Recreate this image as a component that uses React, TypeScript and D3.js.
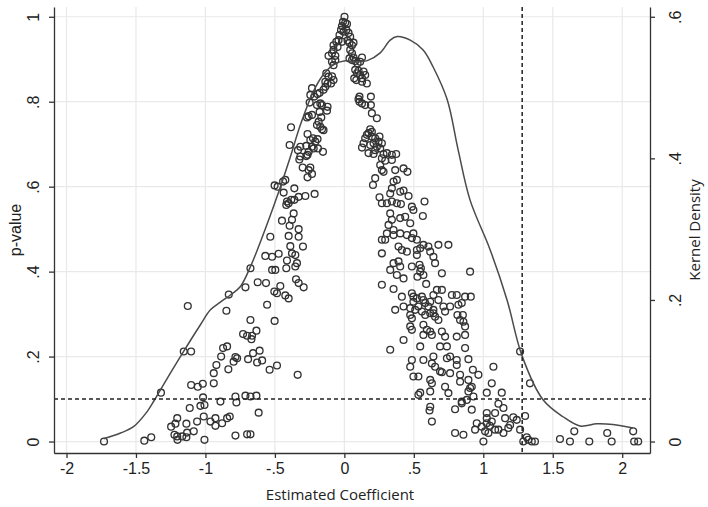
import React, { useEffect, useRef } from 'react';
import * as d3 from 'd3';

// axis ticks
const X_TICKS = [-2, -1.5, -1, -0.5, 0, 0.5, 1, 1.5, 2];
const P_TICKS = [0, 0.2, 0.4, 0.6, 0.8, 1];
const DENSITY_TICKS = [0, 0.2, 0.4, 0.6];

// reference lines
const P_CUTOFF = 0.1;
const COEF_CUTOFF = 1.28;

// [estimated coefficient, p-value]
const scatterPoints: [number, number][] = [
  // left tail
  [-1.73, 0], [-1.44, 0.002], [-1.39, 0.010], [-1.32, 0.115], [-1.247, 0.035], [-1.216, 0.042], [-1.203, 0.055],
  [-1.223, 0.016], [-1.201, 0.004], [-1.167, 0.012], [-1.132, 0.021], [-1.084, 0.024], [-1.137, 0.010], [-1.203, 0.012],
  [-1.137, 0.042], [-1.060, 0.047], [-1.012, 0.059], [-1.156, 0.212], [-1.103, 0.212], [-1.127, 0.319], [-1.113, 0.079],
  [-1.103, 0.133], [-1.055, 0.129], [-1.019, 0.136], [-1.036, 0.084], [-1.007, 0.086], [-1.017, 0.104], [-1.007, 0.004],
  [-0.964, 0.047], [-0.928, 0.037], [-0.928, 0.055], [-0.880, 0.043], [-0.844, 0.055], [-0.825, 0.059], [-0.940, 0.137],
  [-0.892, 0.094], [-0.940, 0.161], [-0.921, 0.180], [-0.887, 0.200], [-0.873, 0.220], [-0.844, 0.224], [-0.835, 0.170],
  [-0.849, 0.308], [-0.832, 0.346],
  // left branch, lower part
  [-0.676, 0.408], [-0.712, 0.363], [-0.624, 0.375], [-0.564, 0.373], [-0.569, 0.437], [-0.520, 0.435], [-0.473, 0.442],
  [-0.413, 0.426], [-0.377, 0.443], [-0.341, 0.420], [-0.353, 0.412], [-0.520, 0.404], [-0.497, 0.404], [-0.418, 0.408],
  [-0.461, 0.366], [-0.348, 0.382], [-0.329, 0.373], [-0.293, 0.363], [-0.504, 0.353], [-0.485, 0.349], [-0.425, 0.344],
  [-0.401, 0.337], [-0.556, 0.322], [-0.502, 0.284], [-0.676, 0.286], [-0.729, 0.253], [-0.700, 0.249], [-0.664, 0.249],
  [-0.633, 0.261], [-0.669, 0.241], [-0.784, 0.199], [-0.772, 0.196], [-0.797, 0.188], [-0.693, 0.194], [-0.657, 0.208],
  [-0.610, 0.214], [-0.628, 0.186], [-0.592, 0.191], [-0.538, 0.169], [-0.485, 0.179], [-0.336, 0.157], [-0.784, 0.106],
  [-0.777, 0.092], [-0.712, 0.108], [-0.676, 0.106], [-0.633, 0.108], [-0.617, 0.068], [-0.784, 0.014], [-0.700, 0.017],
  [-0.676, 0.017], [-0.389, 0.460], [-0.353, 0.439], [-0.298, 0.459],
  // left branch, upper part
  [-0.533, 0.482], [-0.401, 0.484], [-0.329, 0.482], [-0.394, 0.508], [-0.449, 0.520], [-0.377, 0.522], [-0.329, 0.500],
  [-0.365, 0.537], [-0.418, 0.557], [-0.401, 0.561], [-0.382, 0.569], [-0.360, 0.569], [-0.413, 0.565], [-0.329, 0.576],
  [-0.281, 0.578], [-0.214, 0.583], [-0.437, 0.586], [-0.360, 0.596], [-0.502, 0.603], [-0.480, 0.600], [-0.441, 0.612],
  [-0.425, 0.616], [-0.300, 0.645], [-0.257, 0.639], [-0.245, 0.645], [-0.233, 0.630], [-0.265, 0.622], [-0.324, 0.664],
  [-0.317, 0.671], [-0.274, 0.672], [-0.265, 0.675], [-0.334, 0.686], [-0.317, 0.694], [-0.274, 0.696], [-0.233, 0.694],
  [-0.221, 0.690], [-0.190, 0.690], [-0.154, 0.682], [-0.257, 0.682], [-0.209, 0.706], [-0.193, 0.712], [-0.394, 0.698],
  [-0.265, 0.724], [-0.245, 0.710], [-0.226, 0.714], [-0.384, 0.740], [-0.197, 0.745], [-0.173, 0.741], [-0.161, 0.735],
  [-0.150, 0.733], [-0.185, 0.753], [-0.166, 0.763], [-0.257, 0.766], [-0.233, 0.769], [-0.269, 0.763], [-0.197, 0.792],
  [-0.173, 0.796], [-0.161, 0.792], [-0.125, 0.779], [-0.121, 0.788], [-0.178, 0.776], [-0.250, 0.798], [-0.216, 0.812],
  [-0.245, 0.816], [-0.233, 0.832], [-0.193, 0.818], [-0.178, 0.821], [-0.150, 0.828], [-0.137, 0.835], [-0.121, 0.843],
  [-0.137, 0.847], [-0.114, 0.859], [-0.130, 0.867], [-0.114, 0.908],
  // peak
  [0.001, 1.000], [-0.010, 0.988], [0.006, 0.986], [0.019, 0.983], [-0.017, 0.978], [-0.024, 0.969], [-0.006, 0.965],
  [0.014, 0.969], [0.030, 0.962], [0.042, 0.953], [-0.035, 0.957], [-0.042, 0.945], [-0.017, 0.941], [0.023, 0.944],
  [0.037, 0.939], [0.055, 0.933], [0.066, 0.939], [-0.058, 0.941], [-0.078, 0.933], [-0.049, 0.929], [-0.078, 0.922],
  [-0.089, 0.914], [-0.065, 0.908], [0.042, 0.922], [0.055, 0.914], [0.066, 0.904], [0.037, 0.902], [0.055, 0.898],
  [0.127, 0.904], [0.114, 0.894], [0.095, 0.890], [0.078, 0.896], [-0.089, 0.894], [-0.078, 0.886], [-0.065, 0.898],
  [-0.089, 0.860], [-0.078, 0.851], [-0.096, 0.843], [0.078, 0.875], [0.102, 0.873], [0.091, 0.867], [0.114, 0.863],
  [0.127, 0.855], [0.071, 0.855], [0.086, 0.851], [0.138, 0.871], [0.150, 0.863], [0.127, 0.847], [0.162, 0.843],
  [0.109, 0.812], [0.102, 0.806], [0.191, 0.812],
  // right branch, upper part
  [0.127, 0.796], [0.150, 0.792], [0.191, 0.792], [0.109, 0.800], [0.198, 0.773], [0.234, 0.761], [0.186, 0.735],
  [0.198, 0.729], [0.174, 0.726], [0.162, 0.722], [0.150, 0.714], [0.198, 0.718], [0.222, 0.714], [0.253, 0.718],
  [0.246, 0.706], [0.270, 0.702], [0.210, 0.702], [0.234, 0.694], [0.222, 0.686], [0.258, 0.690], [0.186, 0.698],
  [0.138, 0.702], [0.127, 0.692], [0.174, 0.679], [0.210, 0.677], [0.282, 0.677], [0.306, 0.679], [0.342, 0.675],
  [0.373, 0.677], [0.270, 0.667], [0.294, 0.661], [0.342, 0.663], [0.258, 0.651], [0.270, 0.639], [0.282, 0.635],
  [0.366, 0.639], [0.426, 0.643], [0.454, 0.635], [0.222, 0.620], [0.206, 0.604], [0.354, 0.612], [0.378, 0.616],
  [0.342, 0.596], [0.330, 0.584], [0.402, 0.588], [0.426, 0.591], [0.462, 0.578], [0.253, 0.575],
  // right branch, middle
  [0.270, 0.561], [0.306, 0.561], [0.342, 0.565], [0.378, 0.561], [0.407, 0.559], [0.486, 0.553], [0.497, 0.545],
  [0.577, 0.565], [0.565, 0.531], [0.330, 0.537], [0.342, 0.522], [0.318, 0.510], [0.354, 0.498], [0.402, 0.526],
  [0.438, 0.529], [0.474, 0.514], [0.306, 0.490], [0.270, 0.475], [0.294, 0.475], [0.354, 0.486], [0.402, 0.490],
  [0.450, 0.486], [0.497, 0.490], [0.486, 0.479], [0.522, 0.475], [0.569, 0.463], [0.605, 0.459], [0.618, 0.447],
  [0.641, 0.435], [0.677, 0.463], [0.749, 0.463], [0.522, 0.451], [0.546, 0.455], [0.270, 0.443], [0.390, 0.459],
  [0.414, 0.451], [0.450, 0.447], [0.522, 0.439], [0.354, 0.420], [0.390, 0.424], [0.402, 0.412], [0.486, 0.412],
  [0.541, 0.416], [0.551, 0.408], [0.546, 0.400], [0.569, 0.392], [0.653, 0.420], [0.702, 0.396], [0.905, 0.400],
  [0.330, 0.404], [0.378, 0.392], [0.426, 0.384], [0.526, 0.388], [0.589, 0.371], [0.270, 0.369], [0.354, 0.359],
  [0.414, 0.341], [0.486, 0.349], [0.497, 0.341], [0.522, 0.337], [0.558, 0.341], [0.569, 0.333], [0.497, 0.329],
  [0.582, 0.326], [0.618, 0.329], [0.666, 0.357], [0.702, 0.357], [0.641, 0.345], [0.677, 0.333], [0.774, 0.345],
  [0.809, 0.345], [0.869, 0.341], [0.910, 0.341], [0.366, 0.310], [0.426, 0.318], [0.474, 0.314], [0.510, 0.310],
  [0.533, 0.318], [0.605, 0.318], [0.641, 0.310], [0.713, 0.318], [0.761, 0.318], [0.821, 0.322], [0.845, 0.326],
  [0.474, 0.298], [0.486, 0.290], [0.558, 0.306], [0.582, 0.298], [0.618, 0.302], [0.641, 0.302], [0.653, 0.294],
  [0.725, 0.306], [0.814, 0.298], [0.853, 0.298], [0.474, 0.271], [0.486, 0.263], [0.569, 0.275], [0.594, 0.263],
  [0.618, 0.259], [0.569, 0.251], [0.630, 0.251], [0.702, 0.259], [0.725, 0.247], [0.809, 0.247], [0.869, 0.251],
  [0.869, 0.271], [0.857, 0.282], [0.833, 0.286], [0.677, 0.286], [0.426, 0.239], [0.546, 0.224], [0.689, 0.224],
  [0.738, 0.224], [0.869, 0.220], [0.330, 0.216],
  // right branch, lower part
  [0.486, 0.192], [0.474, 0.176], [0.497, 0.153], [0.533, 0.153], [0.569, 0.192], [0.630, 0.184], [0.641, 0.200],
  [0.653, 0.176], [0.689, 0.165], [0.702, 0.163], [0.738, 0.196], [0.761, 0.200], [0.809, 0.192], [0.809, 0.180],
  [0.893, 0.194], [0.761, 0.161], [0.833, 0.157], [0.893, 0.145], [0.925, 0.169], [0.965, 0.157], [1.073, 0.176],
  [1.265, 0.212], [1.336, 0.137], [0.618, 0.145], [0.630, 0.137], [0.618, 0.118], [0.725, 0.129], [0.749, 0.114],
  [0.833, 0.141], [0.893, 0.118], [0.905, 0.126], [0.917, 0.129], [1.025, 0.115], [1.061, 0.137], [1.133, 0.115],
  [0.546, 0.115], [0.533, 0.110], [0.845, 0.094], [0.881, 0.098], [0.929, 0.106], [0.618, 0.082], [0.613, 0.073],
  [0.630, 0.047], [0.797, 0.076], [0.917, 0.075], [0.845, 0.090], [1.025, 0.067], [1.085, 0.067], [1.025, 0.055],
  [1.109, 0.089], [1.145, 0.079], [1.061, 0.047], [0.953, 0.043], [0.989, 0.035], [0.941, 0.028], [1.085, 0.028],
  [1.157, 0.055], [1.216, 0.057], [1.241, 0.051], [1.301, 0.060], [1.180, 0.032], [1.145, 0.020], [0.797, 0.020],
  [0.857, 0.016], [1.001, 0], [1.288, 0], [1.313, 0.010], [1.324, 0.004], [1.349, 0], [1.372, 0],
  [1.048, 0.037], [1.013, 0.024], [1.037, 0.020], [1.109, 0.028], [1.193, 0.039], [1.265, 0.028], [1.025, 0.043],
  // right tail
  [1.552, 0.006], [1.624, 0], [1.655, 0.024], [1.763, 0], [1.892, 0.020], [1.924, 0], [2.079, 0.024], [2.086, 0], [2.115, 0],
];

// kernel density of the estimates: [coefficient, density]
const densityCurve: [number, number][] = [
  [-1.733, 0.004], [-1.611, 0.012], [-1.518, 0.021], [-1.417, 0.043], [-1.366, 0.059], [-1.294, 0.083], [-1.158, 0.127],
  [-1.036, 0.165], [-0.964, 0.186], [-0.892, 0.197], [-0.820, 0.207], [-0.748, 0.219], [-0.676, 0.247], [-0.626, 0.271],
  [-0.532, 0.320], [-0.460, 0.360], [-0.389, 0.402], [-0.317, 0.447], [-0.224, 0.494], [-0.152, 0.518], [-0.080, 0.532],
  [0.006, 0.538], [0.078, 0.536], [0.165, 0.538], [0.258, 0.549], [0.330, 0.567], [0.380, 0.572], [0.474, 0.567],
  [0.567, 0.553], [0.639, 0.529], [0.740, 0.483], [0.819, 0.412], [0.905, 0.341], [1.049, 0.271], [1.171, 0.200],
  [1.279, 0.121], [1.430, 0.059], [1.574, 0.035], [1.696, 0.022], [1.818, 0.025], [1.933, 0.024], [2.077, 0.019],
];

const WIDTH = 708;
const HEIGHT = 507;
const plot = { left: 54, right: 650, top: 7, bottom: 453 };

// Stata style numbers: .5 instead of 0.5
const stataFmt = (d: number) => String(+d.toFixed(2)).replace(/^(-?)0\./, '$1.');

const App = () => {
  const svgRef = useRef<SVGSVGElement>(null);

  useEffect(() => {
    document.body.style.margin = '0';
    const svg = d3.select(svgRef.current);
    svg.selectAll('*').remove();

    const x = d3.scaleLinear().domain([-2.09, 2.2]).range([plot.left, plot.right]);
    const y = d3.scaleLinear().domain([-0.027, 1.023]).range([plot.bottom, plot.top]);
    const yDens = d3.scaleLinear().domain([-0.027 * 0.6, 1.023 * 0.6]).range([plot.bottom, plot.top]);

    svg.append('rect').attr('width', WIDTH).attr('height', HEIGHT).attr('fill', '#ffffff');

    // grid
    const grid = svg.append('g').attr('stroke', '#e9e9e9').attr('stroke-width', 1.2);
    grid.selectAll('.hgrid').data(P_TICKS).enter().append('line')
      .attr('x1', plot.left).attr('x2', plot.right)
      .attr('y1', d => y(d)).attr('y2', d => y(d));
    grid.selectAll('.vgrid').data(X_TICKS).enter().append('line')
      .attr('x1', d => x(d)).attr('x2', d => x(d))
      .attr('y1', plot.top).attr('y2', plot.bottom);

    // scatter
    svg.append('g').selectAll('circle').data(scatterPoints).enter().append('circle')
      .attr('cx', d => x(d[0]))
      .attr('cy', d => y(d[1]))
      .attr('r', 3.4)
      .attr('fill', 'none')
      .attr('stroke', '#333333')
      .attr('stroke-width', 1.35);

    // kernel density
    const line = d3.line<[number, number]>()
      .x(d => x(d[0]))
      .y(d => yDens(d[1]))
      .curve(d3.curveCatmullRom.alpha(0.5));
    svg.append('path')
      .datum(densityCurve)
      .attr('d', line)
      .attr('fill', 'none')
      .attr('stroke', '#4a4a4a')
      .attr('stroke-width', 1.5);

    // cutoff lines
    svg.append('line')
      .attr('x1', plot.left).attr('x2', plot.right)
      .attr('y1', y(P_CUTOFF)).attr('y2', y(P_CUTOFF))
      .attr('stroke', '#222').attr('stroke-width', 1.5).attr('stroke-dasharray', '4,3');
    svg.append('line')
      .attr('x1', x(COEF_CUTOFF)).attr('x2', x(COEF_CUTOFF))
      .attr('y1', plot.top).attr('y2', plot.bottom)
      .attr('stroke', '#222').attr('stroke-width', 1.5).attr('stroke-dasharray', '4,3');

    const tickFont = "'Liberation Sans', Arial, sans-serif";
    const tickSize = 16;

    // x axis
    const xAxis = svg.append('g')
      .attr('transform', `translate(0,${plot.bottom})`)
      .call(d3.axisBottom(x).tickValues(X_TICKS).tickFormat(d => stataFmt(+d)).tickSize(5).tickSizeOuter(0));
    xAxis.selectAll('text').attr('y', 21).attr('dy', 0)
      .attr('font-family', tickFont).attr('font-size', tickSize).attr('fill', '#222');

    // left axis (p-value)
    const yAxis = svg.append('g')
      .attr('transform', `translate(${plot.left},0)`)
      .call(d3.axisLeft(y).tickValues(P_TICKS).tickFormat(d => stataFmt(+d)).tickSize(5).tickSizeOuter(0));
    yAxis.selectAll('text')
      .attr('transform', 'rotate(-90)').attr('x', 0).attr('y', -15).attr('dy', 0)
      .attr('text-anchor', 'middle')
      .attr('font-family', tickFont).attr('font-size', tickSize).attr('fill', '#222');

    // right axis (density)
    const rAxis = svg.append('g')
      .attr('transform', `translate(${plot.right},0)`)
      .call(d3.axisRight(yDens).tickValues(DENSITY_TICKS).tickFormat(d => stataFmt(+d)).tickSize(5).tickSizeOuter(0));
    rAxis.selectAll('text')
      .attr('transform', 'rotate(-90)').attr('x', 0).attr('y', 31).attr('dy', 0)
      .attr('text-anchor', 'middle')
      .attr('font-family', tickFont).attr('font-size', tickSize).attr('fill', '#222');

    [xAxis, yAxis, rAxis].forEach(a => {
      a.select('.domain').attr('stroke', '#333').attr('stroke-width', 1.3);
      a.selectAll('.tick line').attr('stroke', '#333').attr('stroke-width', 1.3);
    });

    // titles
    svg.append('text')
      .attr('x', 340).attr('y', 500)
      .attr('text-anchor', 'middle')
      .attr('font-family', "'Open Sans', sans-serif").attr('font-size', 15).attr('fill', '#222')
      .text('Estimated Coefficient');
    svg.append('text')
      .attr('transform', `translate(21,${(plot.top + plot.bottom) / 2}) rotate(-90)`)
      .attr('text-anchor', 'middle')
      .attr('font-family', tickFont).attr('font-size', 16).attr('fill', '#222')
      .text('p-value');
    svg.append('text')
      .attr('transform', `translate(700,${(plot.top + plot.bottom) / 2}) rotate(-90)`)
      .attr('text-anchor', 'middle')
      .attr('font-family', "'Open Sans', sans-serif").attr('font-size', 15).attr('fill', '#222')
      .text('Kernel Density');
  }, []);

  return <svg ref={svgRef} width={WIDTH} height={HEIGHT} style={{ display: 'block' }} />;
};

export default App;
